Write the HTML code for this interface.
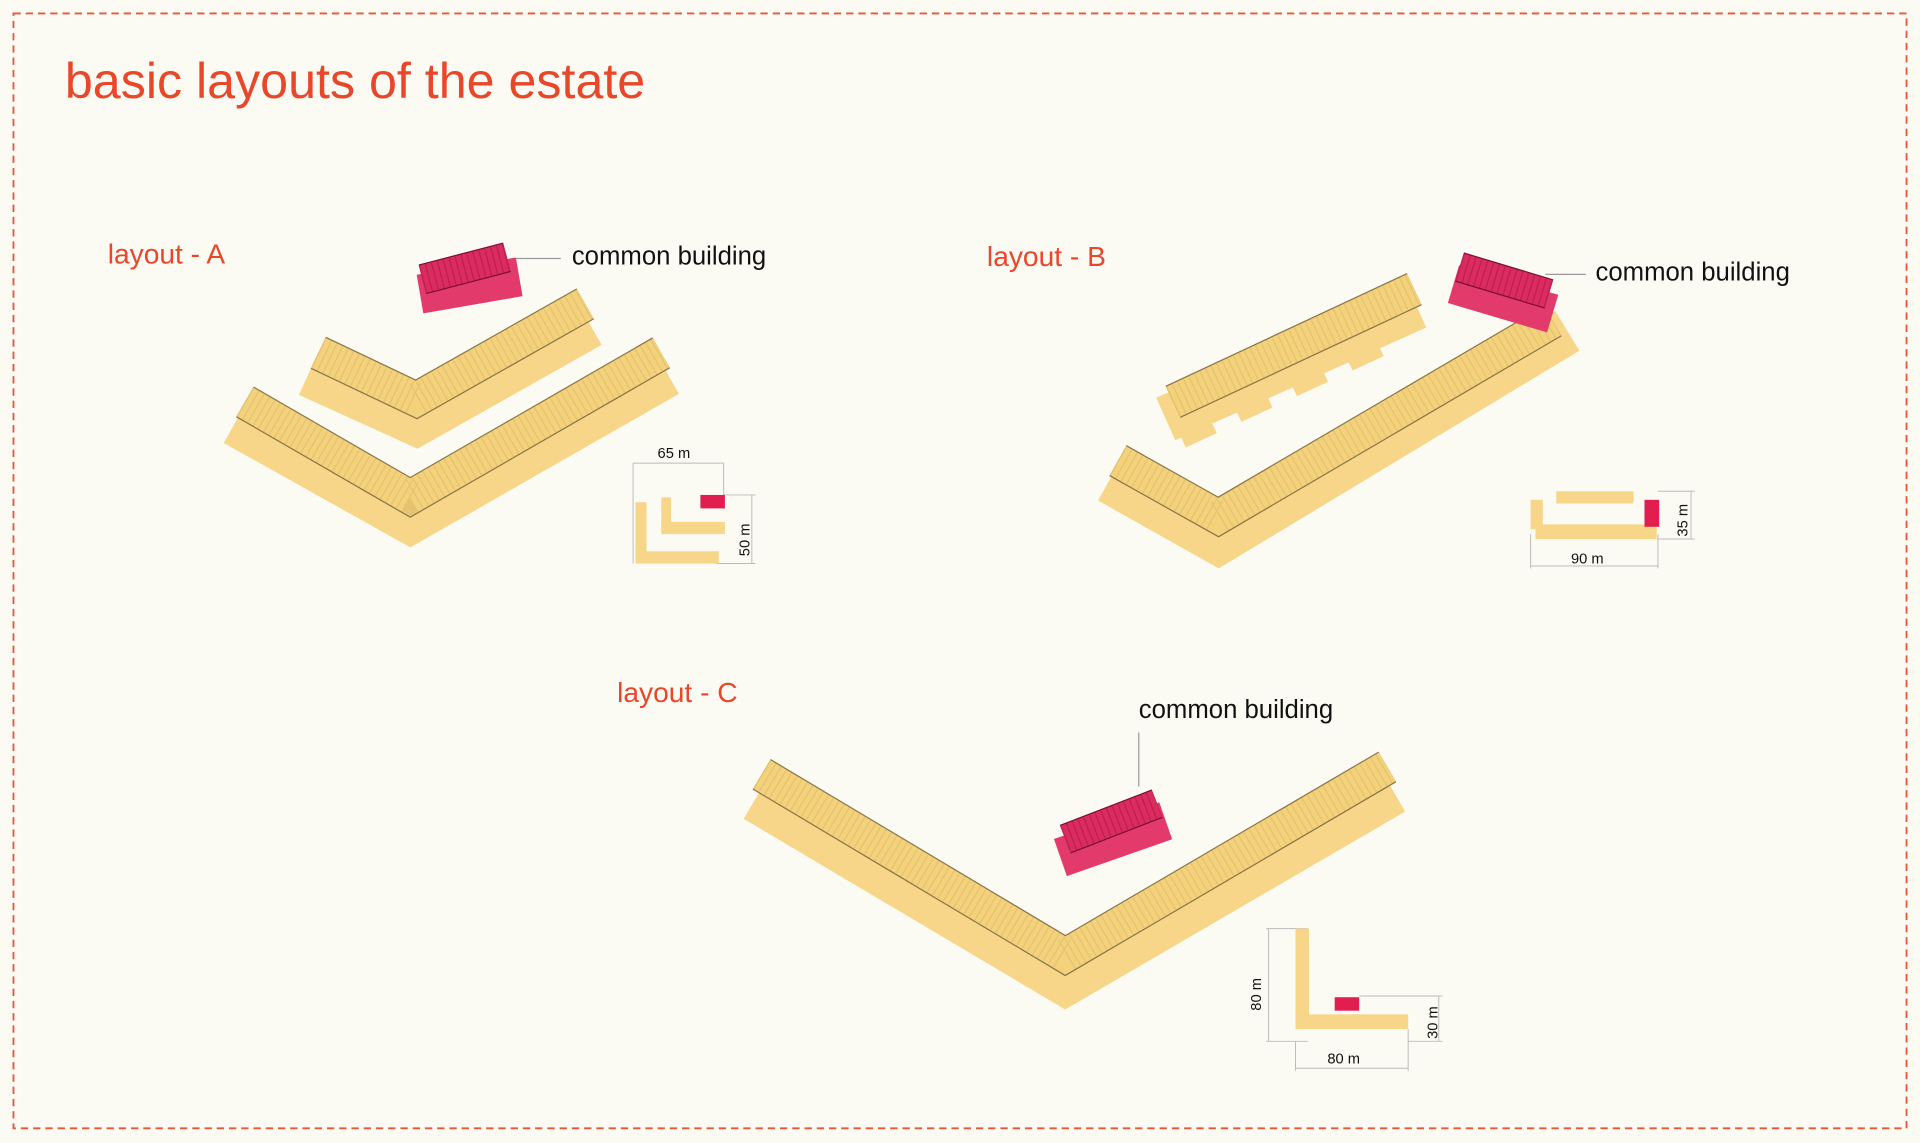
<!DOCTYPE html>
<html><head><meta charset="utf-8"><style>
html,body{margin:0;padding:0;background:#fbfbf4;}
svg{display:block}
text{font-family:"Liberation Sans",sans-serif}
.f{stroke:#f7d68a;stroke-width:38;stroke-linecap:butt;fill:none}
.p{stroke:#f7d68a;stroke-width:16;stroke-dasharray:28 22;fill:none}
.o{stroke:#8a7548;stroke-width:29;stroke-linecap:butt;fill:none}
.r{stroke:#f4d27c;stroke-width:27;stroke-linecap:butt;fill:none}
.h{stroke:#d4b466;stroke-width:27;stroke-dasharray:1 4;fill:none;opacity:.5}
.pf{stroke:#e23a6a;stroke-width:32;fill:none}
.po{stroke:#7a1030;stroke-width:25;fill:none}
.pr{stroke:#da2c5e;stroke-width:23;fill:none}
.ph{stroke:#a81040;stroke-width:23;stroke-dasharray:1 4;fill:none;opacity:.5}
.dim{stroke:#bbb;stroke-width:.8;fill:none}
.y{fill:#f7d68a}
.m{fill:#e21d50}
</style></head><body>
<svg width="1920" height="1143" viewBox="0 0 1568 933" preserveAspectRatio="none">
<rect x="0" y="0" width="1568" height="933" fill="#fbfbf4"/>
<rect x="11" y="11" width="1546" height="910" fill="none" stroke="#e8573a" stroke-width="1.5" stroke-dasharray="6 4"/>
<text x="53" y="80" font-size="41" fill="#e8472a">basic layouts of the estate</text>

<!-- layout A -->
<text x="88" y="215" font-size="23" fill="#e8472a">layout - A</text>
<text x="467" y="216" font-size="21" fill="#111">common building</text>
<line x1="418" y1="211" x2="458" y2="211" stroke="#999" stroke-width="1"/>
<g>
<path class="p" d="M210 365 L335 437 L525 327"/>
<path class="f" d="M192 345 L335 425 L545 305"/>
<path class="o" d="M200 328 L335 406 L540 288"/>
<path class="r" d="M200 328 L335 406 L540 288"/>
<path class="h" d="M200 328 L335 406 L540 288"/>
<path class="p" d="M265 322 L340 356 L465 285"/>
<path class="f" d="M252 305 L340 345 L482 265"/>
<path class="o" d="M260 288 L340 326 L478 248"/>
<path class="r" d="M260 288 L340 326 L478 248"/>
<path class="h" d="M260 288 L340 326 L478 248"/>
<path class="pf" d="M343 240 L424 226"/>
<path class="po" d="M345 228 L414 210"/>
<path class="pr" d="M345 228 L414 210"/>
<path class="ph" d="M345 228 L414 210"/>
</g>
<!-- plan A -->
<line class="dim" x1="517" y1="378" x2="591" y2="378"/>
<line class="dim" x1="517" y1="378" x2="517" y2="460"/>
<line class="dim" x1="591" y1="378" x2="591" y2="404"/>
<line class="dim" x1="591" y1="404" x2="617" y2="404"/>
<line class="dim" x1="585" y1="460" x2="617" y2="460"/>
<line class="dim" x1="614" y1="404" x2="614" y2="460"/>
<text x="537" y="374" font-size="12" fill="#111">65 m</text>
<text x="612" y="454" font-size="12" fill="#111" transform="rotate(-90 612 454)">50 m</text>
<rect class="m" x="572" y="404" width="20" height="11"/>
<rect class="y" x="519" y="410" width="9" height="48"/>
<rect class="y" x="519" y="450" width="68" height="10"/>
<rect class="y" x="540" y="406" width="8" height="28"/>
<rect class="y" x="540" y="426" width="52" height="10"/>

<!-- layout B -->
<text x="806" y="217" font-size="23" fill="#e8472a">layout - B</text>
<text x="1303" y="229" font-size="21" fill="#111">common building</text>
<line x1="1262" y1="224" x2="1295" y2="224" stroke="#999" stroke-width="1"/>
<g>
<path class="p" d="M925 410 L995 452 L1260 290"/>
<path class="f" d="M906 392 L995 442 L1280 270"/>
<path class="o" d="M913 376 L995 422 L1268 262"/>
<path class="r" d="M913 376 L995 422 L1268 262"/>
<path class="h" d="M913 376 L995 422 L1268 262"/>
<path class="p" d="M965 358 L1145 275"/>
<path class="f" d="M952 342 L1157 250"/>
<path class="o" d="M958 328 L1155 236"/>
<path class="r" d="M958 328 L1155 236"/>
<path class="h" d="M958 328 L1155 236"/>
<path class="pf" d="M1187 232 L1268 256"/>
<path class="po" d="M1192 218 L1265 240"/>
<path class="pr" d="M1192 218 L1265 240"/>
<path class="ph" d="M1192 218 L1265 240"/>
</g>
<!-- plan B -->
<line class="dim" x1="1250" y1="436" x2="1250" y2="464"/>
<line class="dim" x1="1354" y1="436" x2="1354" y2="464"/>
<line class="dim" x1="1250" y1="462" x2="1354" y2="462"/>
<line class="dim" x1="1354" y1="401" x2="1384" y2="401"/>
<line class="dim" x1="1354" y1="440" x2="1384" y2="440"/>
<line class="dim" x1="1381" y1="401" x2="1381" y2="440"/>
<text x="1283" y="460" font-size="12" fill="#111">90 m</text>
<text x="1378" y="438" font-size="12" fill="#111" transform="rotate(-90 1378 438)">35 m</text>
<rect class="y" x="1271" y="401" width="63" height="10"/>
<rect class="y" x="1250" y="408" width="10" height="24"/>
<rect class="y" x="1254" y="428" width="99" height="12"/>
<rect class="m" x="1343" y="408" width="12" height="22"/>

<!-- layout C -->
<text x="504" y="573" font-size="23" fill="#e8472a">layout - C</text>
<text x="930" y="586" font-size="21" fill="#111">common building</text>
<line x1="930" y1="598" x2="930" y2="642" stroke="#999" stroke-width="1"/>
<g>
<path class="p" d="M640 668 L870 810 L1115 668"/>
<path class="f" d="M617 652 L870 802 L1138 646"/>
<path class="o" d="M622 632 L870 780 L1133 626"/>
<path class="r" d="M622 632 L870 780 L1133 626"/>
<path class="h" d="M622 632 L870 780 L1133 626"/>
<path class="pf" d="M866 700 L952 670"/>
<path class="po" d="M870 685 L945 656"/>
<path class="pr" d="M870 685 L945 656"/>
<path class="ph" d="M870 685 L945 656"/>
</g>
<!-- plan C -->
<line class="dim" x1="1034" y1="758" x2="1068" y2="758"/>
<line class="dim" x1="1034" y1="850" x2="1068" y2="850"/>
<line class="dim" x1="1036" y1="758" x2="1036" y2="850"/>
<line class="dim" x1="1058" y1="850" x2="1058" y2="874"/>
<line class="dim" x1="1150" y1="840" x2="1150" y2="874"/>
<line class="dim" x1="1058" y1="872" x2="1150" y2="872"/>
<line class="dim" x1="1110" y1="813" x2="1178" y2="813"/>
<line class="dim" x1="1150" y1="850" x2="1178" y2="850"/>
<line class="dim" x1="1175" y1="813" x2="1175" y2="850"/>
<text x="1084" y="868" font-size="12" fill="#111">80 m</text>
<text x="1030" y="825" font-size="12" fill="#111" transform="rotate(-90 1030 825)">80 m</text>
<text x="1174" y="848" font-size="12" fill="#111" transform="rotate(-90 1174 848)">30 m</text>
<rect class="y" x="1058" y="758" width="11" height="80"/>
<rect class="y" x="1058" y="828" width="92" height="12"/>
<rect class="m" x="1090" y="814" width="20" height="11"/>
</svg>
</body></html>
